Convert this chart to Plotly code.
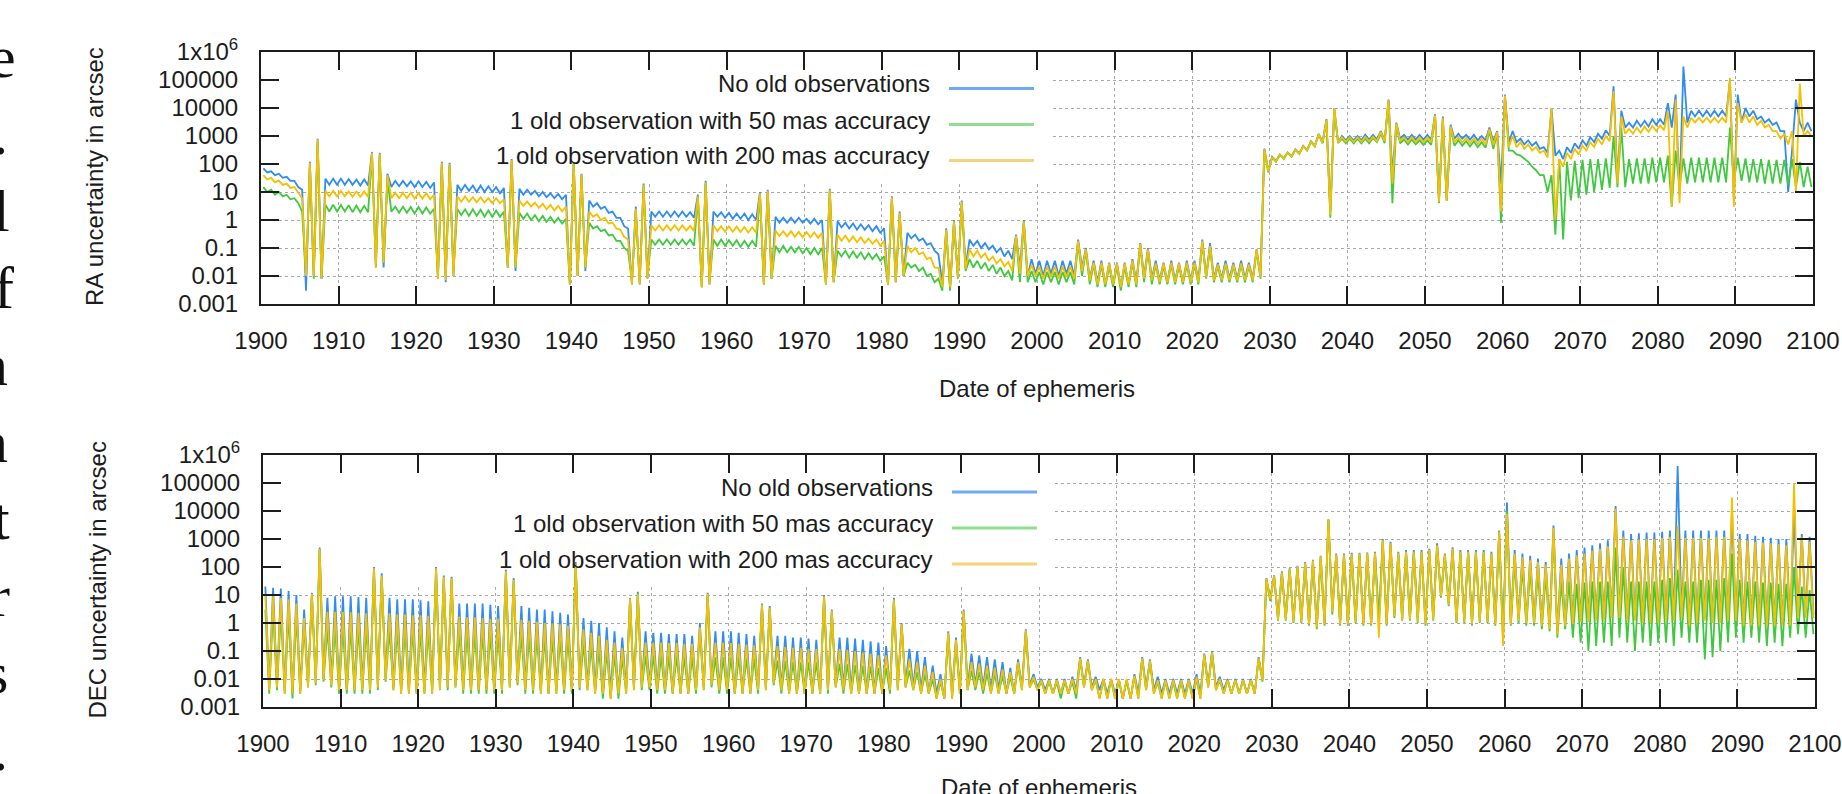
import plotly.graph_objects as go

# ---------------- data ----------------
# One pair of samples per year 1900..2099: H1 = first half of the year, H2 = second half.
YEARS = list(range(1900, 2100))
PHASE_1, PHASE_2 = 0.3, 0.8

# RA uncertainty (arcsec) -- top panel
RA_NO_H1 = [
    70, 55, 45, 35, 25, 12, 120, 800, 30, 30,
    30, 29, 28, 28, 270, 250, 45, 25, 25, 24,
    24, 23, 22, 120, 110, 18, 18, 17, 17, 16,
    15, 14, 150, 13, 12, 11, 10, 9, 8.5, 8,
    120, 45, 5, 4, 3, 2, 1.2, 0.5, 3, 20,
    2, 2, 2, 2, 2, 1.9, 8, 25, 2, 1.9,
    1.8, 1.7, 1.7, 1.6, 10, 12, 1.3, 1.2, 1.2, 1.2,
    1.1, 1.1, 1.0, 13, 0.9, 0.8, 0.75, 0.7, 0.65, 0.6,
    0.5, 7, 2, 0.35, 0.3, 0.22, 0.15, 0.06, 0.5, 1,
    5, 0.2, 0.18, 0.15, 0.12, 0.1, 0.08, 0.3, 1, 0.04,
    0.035, 0.035, 0.035, 0.035, 0.035, 0.2, 0.1, 0.035, 0.035, 0.03,
    0.03, 0.03, 0.04, 0.15, 0.1, 0.035, 0.03, 0.035, 0.03, 0.035,
    0.035, 0.2, 0.15, 0.03, 0.035, 0.03, 0.035, 0.03, 0.09, 350,
    180, 220, 260, 330, 450, 650, 1200, 4000, 10000, 1000,
    1000, 1000, 1100, 1100, 1500, 20000, 3000, 1100, 1100, 1100,
    1100, 6000, 5000, 2500, 1200, 1100, 1100, 1000, 2000, 1500,
    30000, 1500, 800, 700, 600, 400, 10000, 300, 400, 550,
    700, 900, 1200, 1600, 60000, 8000, 3000, 3500, 3500, 4000,
    4000, 15000, 30000, 300000, 8000, 8000, 8000, 8000, 8000, 100000,
    30000, 10000, 8000, 5000, 4000, 3000, 1500, 300, 3000, 3000,
]
RA_NO_H2 = [
    50, 40, 32, 25, 15, 0.003, 0.01, 0.008, 18, 18,
    18, 18, 17, 17, 0.02, 0.02, 15, 16, 16, 15,
    15, 14, 0.008, 0.006, 0.01, 11, 11, 10, 10, 10,
    9, 0.02, 0.015, 8, 8, 7, 6.5, 6, 5.5, 0.005,
    0.01, 0.015, 3, 2.5, 1.8, 1.2, 0.6, 0.005, 0.005, 0.008,
    1.3, 1.3, 1.3, 1.3, 1.3, 1.2, 0.004, 0.005, 1.3, 1.2,
    1.1, 1.1, 1.0, 1.0, 0.005, 0.008, 0.8, 0.8, 0.8, 0.8,
    0.75, 0.7, 0.005, 0.006, 0.55, 0.5, 0.45, 0.45, 0.4, 0.35,
    0.005, 0.006, 0.01, 0.22, 0.18, 0.13, 0.08, 0.005, 0.004, 0.01,
    0.02, 0.12, 0.1, 0.09, 0.07, 0.05, 0.04, 0.02, 0.01, 0.012,
    0.01, 0.012, 0.01, 0.012, 0.01, 0.02, 0.008, 0.006, 0.005, 0.005,
    0.004, 0.005, 0.006, 0.01, 0.008, 0.007, 0.006, 0.007, 0.006, 0.007,
    0.007, 0.01, 0.008, 0.008, 0.008, 0.008, 0.008, 0.008, 0.01, 60,
    130, 160, 190, 240, 320, 450, 600, 2, 600, 700,
    700, 700, 750, 750, 700, 40, 800, 750, 750, 750,
    750, 5, 5, 800, 800, 750, 700, 700, 650, 20,
    600, 600, 500, 450, 350, 250, 200, 150, 250, 350,
    450, 600, 800, 1000, 30, 2000, 2000, 2200, 2200, 2500,
    2500, 2000, 8, 3000, 5000, 5000, 5000, 5000, 5000, 5,
    3000, 5000, 4000, 3000, 2500, 1500, 10, 20000, 1500, 1500,
]
RA_50_H1 = [
    15, 12, 10, 8, 6, 2, 100, 600, 3.5, 3.5,
    3.4, 3.4, 3.3, 3.2, 200, 200, 30, 3, 3, 2.9,
    2.9, 2.8, 2.5, 100, 90, 2.5, 2.4, 2.4, 2.3, 2.2,
    2.2, 2, 120, 1.8, 1.7, 1.5, 1.4, 1.3, 1.2, 1.1,
    100, 40, 0.8, 0.6, 0.45, 0.3, 0.18, 0.08, 2, 15,
    0.2, 0.2, 0.2, 0.2, 0.2, 0.2, 6, 20, 0.2, 0.2,
    0.19, 0.19, 0.18, 0.18, 8, 10, 0.12, 0.12, 0.11, 0.11,
    0.1, 0.1, 0.1, 10, 0.08, 0.08, 0.075, 0.07, 0.065, 0.06,
    0.05, 6, 1.5, 0.03, 0.025, 0.02, 0.012, 0.008, 0.4, 0.8,
    4, 0.04, 0.035, 0.03, 0.025, 0.02, 0.015, 0.25, 0.8, 0.015,
    0.014, 0.014, 0.014, 0.014, 0.014, 0.15, 0.08, 0.025, 0.025, 0.022,
    0.022, 0.022, 0.03, 0.12, 0.08, 0.025, 0.022, 0.025, 0.022, 0.025,
    0.025, 0.15, 0.1, 0.022, 0.025, 0.022, 0.025, 0.022, 0.08, 300,
    170, 210, 250, 320, 430, 600, 1100, 3500, 9000, 800,
    800, 800, 800, 850, 1200, 18000, 2500, 750, 750, 700,
    700, 5000, 4000, 2000, 700, 650, 650, 600, 1500, 1200,
    25000, 300, 200, 120, 60, 40, 40, 150, 120, 130,
    140, 150, 150, 160, 1000, 2000, 150, 160, 160, 170,
    170, 200, 300, 160, 170, 170, 170, 170, 170, 2000,
    170, 160, 150, 150, 140, 140, 140, 150, 120, 80,
]
RA_50_H2 = [
    10, 8, 7, 5.5, 4, 0.01, 0.008, 0.008, 2, 2,
    2, 1.9, 1.9, 1.9, 0.03, 0.03, 2, 1.8, 1.8, 1.7,
    1.7, 1.7, 0.01, 0.01, 0.015, 1.5, 1.4, 1.4, 1.3, 1.3,
    1.3, 0.02, 0.02, 1.1, 1.0, 0.9, 0.85, 0.8, 0.75, 0.005,
    0.01, 0.02, 0.5, 0.4, 0.28, 0.18, 0.1, 0.006, 0.006, 0.01,
    0.13, 0.13, 0.13, 0.13, 0.13, 0.12, 0.004, 0.006, 0.12, 0.12,
    0.12, 0.11, 0.11, 0.11, 0.005, 0.008, 0.07, 0.07, 0.07, 0.065,
    0.06, 0.06, 0.005, 0.006, 0.05, 0.045, 0.045, 0.04, 0.04, 0.035,
    0.005, 0.006, 0.01, 0.02, 0.015, 0.01, 0.006, 0.003, 0.003, 0.008,
    0.015, 0.02, 0.018, 0.015, 0.012, 0.01, 0.007, 0.006, 0.006, 0.006,
    0.005, 0.006, 0.005, 0.006, 0.005, 0.01, 0.005, 0.004, 0.004, 0.004,
    0.003, 0.004, 0.004, 0.006, 0.005, 0.005, 0.005, 0.005, 0.005, 0.005,
    0.005, 0.008, 0.006, 0.006, 0.006, 0.006, 0.006, 0.006, 0.008, 50,
    120, 150, 180, 230, 300, 420, 550, 1.2, 550, 550,
    550, 550, 550, 600, 550, 4, 550, 500, 500, 480,
    480, 4, 5, 450, 450, 420, 400, 380, 350, 0.8,
    300, 220, 150, 80, 40, 10, 0.3, 0.2, 5, 6,
    8, 10, 12, 14, 15, 15, 20, 20, 20, 22,
    22, 3, 15, 20, 22, 22, 22, 22, 22, 25,
    25, 22, 22, 20, 20, 20, 18, 15, 15, 15,
]
RA_200_H1 = [
    40, 32, 26, 20, 15, 6, 110, 750, 11, 11,
    11, 10.5, 10.5, 10.5, 250, 230, 40, 9.5, 9.5, 9.5,
    9, 9, 8, 110, 100, 7, 7, 6.5, 6.5, 6,
    6, 5.5, 140, 5, 4.6, 4.2, 3.8, 3.5, 3.2, 3,
    110, 42, 2, 1.6, 1.2, 0.8, 0.45, 0.2, 2.5, 18,
    0.65, 0.65, 0.65, 0.65, 0.65, 0.62, 7, 22, 0.65, 0.6,
    0.6, 0.58, 0.56, 0.55, 9, 11, 0.42, 0.4, 0.4, 0.38,
    0.37, 0.36, 0.35, 12, 0.3, 0.28, 0.26, 0.24, 0.22, 0.2,
    0.18, 6.5, 1.8, 0.12, 0.1, 0.07, 0.045, 0.02, 0.45, 0.9,
    4.5, 0.09, 0.08, 0.065, 0.05, 0.04, 0.032, 0.28, 0.9, 0.025,
    0.022, 0.022, 0.022, 0.022, 0.022, 0.18, 0.09, 0.03, 0.03, 0.028,
    0.028, 0.028, 0.035, 0.14, 0.09, 0.028, 0.028, 0.03, 0.028, 0.03,
    0.03, 0.18, 0.12, 0.026, 0.028, 0.026, 0.028, 0.026, 0.085, 330,
    175, 215, 255, 325, 440, 620, 1150, 3800, 10000, 900,
    900, 900, 950, 950, 1400, 19000, 2800, 900, 900, 900,
    900, 5500, 4500, 2200, 900, 850, 850, 800, 1800, 1400,
    28000, 1000, 600, 500, 400, 300, 10000, 150, 250, 350,
    450, 600, 800, 1000, 40000, 5000, 1800, 2000, 2200, 2300,
    2400, 8000, 20000, 5000, 4500, 4500, 4500, 4500, 4500, 120000,
    15000, 6000, 5000, 3500, 2500, 1500, 1200, 1500, 75000, 1500,
]
RA_200_H2 = [
    28, 22, 18, 14, 9, 0.01, 0.01, 0.008, 7, 7,
    7, 6.8, 6.8, 6.6, 0.02, 0.03, 6, 6, 6, 5.8,
    5.8, 5.5, 0.008, 0.007, 0.01, 4.5, 4.5, 4.3, 4.2, 4,
    4, 0.02, 0.02, 3.2, 3, 2.7, 2.4, 2.2, 2, 0.005,
    0.01, 0.02, 1.3, 1.0, 0.75, 0.5, 0.25, 0.005, 0.005, 0.008,
    0.42, 0.42, 0.42, 0.42, 0.42, 0.4, 0.004, 0.005, 0.4, 0.38,
    0.38, 0.37, 0.36, 0.35, 0.005, 0.008, 0.27, 0.26, 0.25, 0.24,
    0.24, 0.23, 0.005, 0.006, 0.18, 0.17, 0.16, 0.15, 0.14, 0.12,
    0.005, 0.006, 0.01, 0.07, 0.06, 0.04, 0.02, 0.004, 0.004, 0.009,
    0.018, 0.05, 0.045, 0.035, 0.028, 0.022, 0.015, 0.012, 0.01, 0.01,
    0.008, 0.009, 0.008, 0.009, 0.008, 0.015, 0.007, 0.005, 0.005, 0.005,
    0.004, 0.005, 0.005, 0.008, 0.007, 0.006, 0.006, 0.006, 0.006, 0.006,
    0.006, 0.009, 0.007, 0.007, 0.007, 0.007, 0.007, 0.007, 0.009, 55,
    125, 155, 185, 235, 310, 440, 580, 1.5, 580, 620,
    620, 620, 650, 650, 650, 20, 650, 600, 600, 600,
    600, 4.5, 5, 600, 580, 550, 520, 500, 480, 2,
    400, 400, 350, 300, 250, 170, 1, 80, 150, 220,
    300, 400, 500, 650, 20, 1200, 1200, 1300, 1400, 1500,
    1600, 3, 4, 2000, 3000, 3000, 3000, 3000, 3000, 3,
    3000, 3000, 2500, 2000, 1500, 800, 500, 10, 1000, 1000,
]

# DEC uncertainty (arcsec) -- bottom panel
DEC_NO_H1 = [
    20, 18, 17, 14, 10, 3, 12, 500, 8, 9,
    9, 9, 8.5, 8, 100, 60, 8, 7, 7, 7,
    6.5, 6, 100, 50, 45, 5, 5, 5, 5, 4.5,
    4, 80, 40, 4, 3.5, 3, 3, 2.6, 2.3, 2,
    150, 1.5, 1.2, 1, 0.7, 0.5, 0.3, 8, 13, 0.5,
    0.45, 0.45, 0.4, 0.4, 0.4, 0.35, 1, 12, 0.5, 0.5,
    0.5, 0.45, 0.4, 0.35, 5, 4, 0.35, 0.35, 0.3, 0.3,
    0.28, 0.25, 10, 3, 0.3, 0.3, 0.28, 0.25, 0.22, 0.2,
    0.15, 8, 1, 0.12, 0.1, 0.06, 0.03, 0.015, 0.5, 0.3,
    3, 0.08, 0.07, 0.06, 0.05, 0.04, 0.025, 0.05, 0.6, 0.015,
    0.01, 0.01, 0.01, 0.01, 0.012, 0.06, 0.05, 0.012, 0.01, 0.01,
    0.009, 0.009, 0.015, 0.06, 0.05, 0.012, 0.01, 0.01, 0.01, 0.01,
    0.015, 0.08, 0.1, 0.012, 0.01, 0.01, 0.01, 0.01, 0.06, 40,
    50, 70, 90, 110, 150, 180, 250, 5000, 300, 300,
    320, 320, 330, 350, 1000, 800, 350, 400, 400, 400,
    450, 700, 300, 500, 400, 400, 400, 400, 350, 2000,
    20000, 400, 300, 250, 200, 150, 3000, 200, 300, 400,
    500, 600, 700, 900, 15000, 2000, 1500, 1600, 1700, 1700,
    1800, 2000, 400000, 2000, 2000, 2000, 2000, 2000, 2000, 8000,
    1500, 1500, 1300, 1200, 1100, 1000, 1000, 8000, 1500, 1200,
]
DEC_NO_H2 = [
    0.005, 0.006, 0.004, 0.003, 0.004, 0.006, 0.008, 0.01, 0.008, 0.005,
    0.004, 0.004, 0.005, 0.005, 0.006, 0.01, 0.005, 0.004, 0.004, 0.003,
    0.004, 0.004, 0.005, 0.005, 0.006, 0.005, 0.004, 0.004, 0.004, 0.005,
    0.005, 0.006, 0.008, 0.005, 0.004, 0.004, 0.003, 0.004, 0.004, 0.005,
    0.006, 0.005, 0.004, 0.003, 0.003, 0.003, 0.004, 0.005, 0.006, 0.006,
    0.005, 0.004, 0.003, 0.003, 0.003, 0.004, 0.005, 0.006, 0.004, 0.004,
    0.003, 0.003, 0.003, 0.004, 0.005, 0.008, 0.005, 0.004, 0.003, 0.003,
    0.003, 0.003, 0.004, 0.006, 0.005, 0.004, 0.003, 0.003, 0.003, 0.003,
    0.004, 0.005, 0.006, 0.005, 0.004, 0.003, 0.003, 0.002, 0.003, 0.004,
    0.005, 0.006, 0.005, 0.004, 0.004, 0.003, 0.003, 0.005, 0.006, 0.005,
    0.004, 0.003, 0.003, 0.003, 0.004, 0.006, 0.005, 0.004, 0.003, 0.003,
    0.002, 0.002, 0.003, 0.005, 0.004, 0.003, 0.003, 0.003, 0.003, 0.003,
    0.003, 0.006, 0.005, 0.004, 0.003, 0.003, 0.003, 0.003, 0.01, 8,
    1.5, 1.5, 1.3, 1.2, 1, 0.8, 1, 3, 1, 1,
    1.2, 1, 1, 1.2, 1, 2, 1.5, 1.5, 1.5, 1.2,
    1.5, 10, 5, 1.2, 1.2, 1, 1.2, 1.2, 1, 0.3,
    1, 1.5, 1.2, 1.2, 1, 0.8, 0.5, 1, 1.2, 1.5,
    1.5, 1.5, 1.5, 2, 2, 1.5, 1.5, 1.2, 1.2, 1.2,
    1.5, 1.5, 2, 1, 1.2, 1.5, 1.2, 1.2, 1.5, 1.5,
    1, 1, 1, 1, 1, 1, 1, 2, 2, 2,
]
DEC_50_H1 = [
    3, 3, 2.5, 2.2, 1.8, 0.8, 10, 400, 0.7, 0.7,
    0.7, 0.7, 0.7, 0.7, 80, 40, 0.6, 0.6, 0.6, 0.6,
    0.55, 0.55, 80, 40, 35, 0.5, 0.5, 0.5, 0.48, 0.45,
    0.45, 60, 30, 0.4, 0.38, 0.35, 0.33, 0.32, 0.3, 0.3,
    120, 0.2, 0.15, 0.12, 0.1, 0.08, 0.06, 7, 10, 0.07,
    0.07, 0.07, 0.065, 0.065, 0.06, 0.06, 0.5, 10, 0.06, 0.06,
    0.06, 0.06, 0.055, 0.055, 4, 3, 0.045, 0.045, 0.04, 0.04,
    0.04, 0.04, 8, 2.5, 0.035, 0.035, 0.032, 0.03, 0.028, 0.025,
    0.025, 6, 0.8, 0.02, 0.018, 0.015, 0.01, 0.008, 0.4, 0.2,
    2.5, 0.02, 0.018, 0.016, 0.015, 0.013, 0.012, 0.03, 0.5, 0.01,
    0.008, 0.008, 0.008, 0.008, 0.008, 0.05, 0.04, 0.009, 0.009, 0.009,
    0.009, 0.009, 0.012, 0.05, 0.04, 0.008, 0.008, 0.008, 0.008, 0.008,
    0.01, 0.07, 0.08, 0.009, 0.009, 0.009, 0.009, 0.009, 0.05, 35,
    45, 60, 80, 100, 130, 160, 220, 5000, 260, 260,
    270, 280, 290, 300, 800, 600, 300, 330, 330, 330,
    370, 550, 250, 400, 330, 330, 330, 320, 280, 1500,
    10000, 150, 100, 80, 60, 50, 1500, 30, 30, 25,
    28, 30, 30, 30, 500, 100, 30, 30, 30, 30,
    35, 40, 80, 30, 30, 35, 35, 35, 40, 300,
    35, 30, 30, 28, 28, 25, 25, 100, 20, 15,
]
DEC_50_H2 = [
    0.003, 0.004, 0.003, 0.002, 0.003, 0.005, 0.006, 0.008, 0.005, 0.003,
    0.003, 0.003, 0.003, 0.003, 0.004, 0.008, 0.004, 0.003, 0.003, 0.003,
    0.003, 0.003, 0.004, 0.004, 0.005, 0.003, 0.003, 0.003, 0.003, 0.003,
    0.003, 0.005, 0.006, 0.003, 0.003, 0.003, 0.003, 0.003, 0.003, 0.003,
    0.004, 0.004, 0.003, 0.002, 0.002, 0.002, 0.003, 0.004, 0.004, 0.004,
    0.003, 0.003, 0.003, 0.003, 0.003, 0.003, 0.004, 0.005, 0.003, 0.003,
    0.003, 0.003, 0.003, 0.003, 0.004, 0.006, 0.003, 0.003, 0.003, 0.003,
    0.003, 0.003, 0.003, 0.005, 0.003, 0.003, 0.003, 0.003, 0.003, 0.003,
    0.003, 0.004, 0.005, 0.004, 0.003, 0.003, 0.002, 0.002, 0.002, 0.003,
    0.004, 0.004, 0.003, 0.003, 0.003, 0.003, 0.003, 0.004, 0.005, 0.004,
    0.003, 0.003, 0.002, 0.003, 0.002, 0.005, 0.004, 0.002, 0.002, 0.002,
    0.002, 0.002, 0.002, 0.004, 0.003, 0.002, 0.002, 0.002, 0.002, 0.002,
    0.002, 0.005, 0.004, 0.003, 0.003, 0.003, 0.003, 0.003, 0.008, 6,
    1.2, 1.2, 1, 1, 0.8, 0.6, 0.8, 2, 0.8, 0.8,
    1, 0.8, 0.8, 1, 0.8, 1.5, 1.2, 1.2, 1, 0.8,
    1.2, 8, 4, 1, 1, 0.8, 1, 1, 0.8, 0.25,
    0.8, 1, 0.8, 0.8, 0.6, 0.5, 0.3, 0.6, 0.3, 0.2,
    0.1, 0.15, 0.2, 0.15, 0.3, 0.2, 0.1, 0.2, 0.15, 0.2,
    0.2, 0.15, 0.3, 0.2, 0.2, 0.05, 0.06, 0.1, 0.2, 0.3,
    0.2, 0.3, 0.2, 0.15, 0.2, 0.15, 0.3, 0.4, 0.3, 0.4,
]
DEC_200_H1 = [
    10, 9, 8, 7, 5, 1.5, 11, 450, 2.5, 2.5,
    2.5, 2.4, 2.3, 2.2, 90, 50, 2.2, 2, 2, 1.9,
    1.9, 1.8, 90, 45, 40, 1.7, 1.6, 1.6, 1.5, 1.4,
    1.4, 70, 35, 1.3, 1.2, 1.1, 1, 0.95, 0.9, 0.8,
    130, 0.6, 0.45, 0.35, 0.25, 0.2, 0.13, 7.5, 11, 0.2,
    0.2, 0.2, 0.19, 0.19, 0.18, 0.18, 0.7, 11, 0.2, 0.2,
    0.19, 0.18, 0.17, 0.16, 4.5, 3.5, 0.15, 0.14, 0.13, 0.13,
    0.12, 0.12, 9, 2.8, 0.12, 0.11, 0.1, 0.09, 0.08, 0.07,
    0.07, 7, 0.9, 0.05, 0.04, 0.03, 0.018, 0.01, 0.45, 0.25,
    2.8, 0.04, 0.035, 0.03, 0.025, 0.022, 0.018, 0.04, 0.55, 0.012,
    0.009, 0.009, 0.009, 0.009, 0.01, 0.055, 0.045, 0.01, 0.01, 0.01,
    0.01, 0.01, 0.013, 0.055, 0.045, 0.009, 0.009, 0.009, 0.009, 0.009,
    0.012, 0.075, 0.09, 0.01, 0.009, 0.009, 0.009, 0.009, 0.055, 38,
    48, 65, 85, 105, 140, 170, 240, 5000, 280, 280,
    290, 300, 310, 320, 900, 700, 320, 350, 350, 350,
    400, 600, 280, 450, 350, 350, 350, 340, 300, 1800,
    8000, 300, 220, 180, 150, 120, 2500, 120, 200, 260,
    300, 380, 450, 550, 12000, 1200, 900, 950, 1000, 1000,
    1100, 1200, 3000, 1100, 1100, 1100, 1100, 1200, 1200, 30000,
    1000, 900, 800, 750, 700, 650, 600, 100000, 1200, 800,
]
DEC_200_H2 = [
    0.004, 0.005, 0.003, 0.003, 0.003, 0.005, 0.007, 0.009, 0.006, 0.004,
    0.004, 0.004, 0.004, 0.004, 0.005, 0.009, 0.004, 0.003, 0.003, 0.003,
    0.003, 0.003, 0.004, 0.005, 0.005, 0.004, 0.004, 0.004, 0.004, 0.004,
    0.004, 0.005, 0.007, 0.004, 0.004, 0.003, 0.003, 0.003, 0.004, 0.004,
    0.005, 0.004, 0.003, 0.003, 0.002, 0.003, 0.003, 0.004, 0.005, 0.005,
    0.004, 0.004, 0.003, 0.003, 0.003, 0.004, 0.004, 0.006, 0.004, 0.004,
    0.003, 0.003, 0.003, 0.004, 0.004, 0.007, 0.004, 0.003, 0.003, 0.003,
    0.003, 0.003, 0.004, 0.005, 0.004, 0.003, 0.003, 0.003, 0.003, 0.003,
    0.004, 0.004, 0.005, 0.004, 0.003, 0.003, 0.002, 0.002, 0.002, 0.003,
    0.004, 0.005, 0.004, 0.003, 0.003, 0.003, 0.003, 0.004, 0.005, 0.004,
    0.003, 0.003, 0.003, 0.003, 0.003, 0.005, 0.004, 0.002, 0.002, 0.002,
    0.002, 0.002, 0.002, 0.004, 0.003, 0.002, 0.002, 0.002, 0.002, 0.002,
    0.002, 0.005, 0.004, 0.003, 0.003, 0.003, 0.003, 0.003, 0.009, 7,
    1.3, 1.3, 1.1, 1.1, 0.9, 0.7, 0.9, 2.5, 0.9, 0.9,
    1.1, 0.9, 0.9, 0.3, 0.9, 1.8, 1.3, 1.3, 1.1, 0.9,
    1.3, 9, 4.5, 1.1, 1.1, 0.9, 1.1, 1.1, 0.9, 0.15,
    0.9, 1.2, 1, 1, 0.8, 0.6, 0.4, 0.8, 0.9, 1.1,
    1.1, 1.2, 1.2, 1.5, 1.5, 1.2, 1.2, 1, 1, 1,
    1.2, 1.2, 1.5, 0.8, 1, 1.2, 1, 1, 1.2, 1.2,
    0.8, 0.8, 0.8, 0.8, 0.8, 0.8, 0.8, 1.5, 1.5, 1.5,
]

SERIES_NAMES = ["No old observations",
                "1 old observation with 50 mas accuracy",
                "1 old observation with 200 mas accuracy"]
X_TICKS = list(range(1900, 2101, 10))
Y_TICKS = [1e-3, 1e-2, 1e-1, 1, 10, 100, 1000, 1e4, 1e5, 1e6]
Y_TICKTEXT = ["0.001", "0.01", "0.1", "1", "10", "100", "1000",
              "10000", "100000", "1x10<sup>6</sup>"]
Y_TITLES = ["RA uncertainty in arcsec", "DEC uncertainty in arcsec"]
X_TITLE = "Date of ephemeris"
MARGIN_LETTERS = ["e", ".", "l", "f", "n", "n", "t", "r", "s", "."]

# ---------------- styling ----------------
W, H = 1842, 794
LINE_COLORS = ["#2f8cf0", "#3fc93f", "#f5c000"]
KEY_COLORS = ["#6eaaf0", "#92de8f", "#f2d47c"]
FONT = "Liberation Sans, Arial, Helvetica, sans-serif"
INK = "#1c1c1c"
TXT_DY = 4.5  # annotation glyph centre sits this many px below its anchor

def px(x, y):
    return x / W, 1 - y / H

def path(h1, h2):
    xs, ys = [], []
    for yr, a, b in zip(YEARS, h1, h2):
        xs += [yr + PHASE_1, yr + PHASE_2]
        ys += [a, b]
    return xs, ys

fig = go.Figure()
panels = [
    ("x", "y", [(RA_NO_H1, RA_NO_H2), (RA_50_H1, RA_50_H2), (RA_200_H1, RA_200_H2)]),
    ("x2", "y2", [(DEC_NO_H1, DEC_NO_H2), (DEC_50_H1, DEC_50_H2), (DEC_200_H1, DEC_200_H2)]),
]
for xa, ya, series in panels:
    for (h1, h2), name, col in zip(series, SERIES_NAMES, LINE_COLORS):
        xs, ys = path(h1, h2)
        fig.add_trace(go.Scatter(x=xs, y=ys, mode="lines", name=name,
                                 line=dict(color=col, width=1.8),
                                 xaxis=xa, yaxis=ya, showlegend=False,
                                 hoverinfo="skip"))

# panel geometry in pixels: (left, right, top, bottom)
GEOM = [(261, 1813, 52, 304), (263, 1815, 455, 707)]

def xaxis_cfg(l, r, anchor):
    return dict(domain=[l / W, r / W], anchor=anchor, range=[1900, 2100],
                tickmode="array", tickvals=X_TICKS, automargin=False,
                ticks="inside", ticklen=18, tickwidth=1.5, tickcolor=INK,
                showline=True, linewidth=2, linecolor=INK, mirror="ticks",
                showgrid=True, gridcolor="#a9a9a9", griddash="dot", gridwidth=1,
                zeroline=False, tickfont=dict(family=FONT, size=24, color=INK),
                ticklabelstandoff=14)

def yaxis_cfg(t, b, anchor):
    return dict(domain=[1 - b / H, 1 - t / H], anchor=anchor, type="log",
                range=[-3, 6], tickmode="array", tickvals=Y_TICKS,
                ticktext=Y_TICKTEXT, automargin=False,
                ticks="inside", ticklen=18, tickwidth=1.5, tickcolor=INK,
                showline=True, linewidth=2, linecolor=INK, mirror="ticks",
                showgrid=True, gridcolor="#a9a9a9", griddash="dot", gridwidth=1,
                zeroline=False, tickfont=dict(family=FONT, size=24, color=INK),
                ticklabelstandoff=16)

(l1, r1, t1, b1), (l2, r2, t2, b2) = GEOM
fig.update_layout(
    template="none",
    width=W, height=H, margin=dict(l=0, r=0, t=0, b=0, autoexpand=False),
    paper_bgcolor="white", plot_bgcolor="white", hovermode=False,
    showlegend=False,
    xaxis=xaxis_cfg(l1, r1, "y"), yaxis=yaxis_cfg(t1, b1, "x"),
    xaxis2=xaxis_cfg(l2, r2, "y2"), yaxis2=yaxis_cfg(t2, b2, "x2"),
)

shapes, annotations = [], []

# keys: right-aligned text + sample line to the right (gnuplot style)
KEY_LAYOUT = [  # text right edge, sample x0, sample x1, row y's
    (932, 949, 1034, [88.5, 124.5, 160.5]),
    (935, 952, 1037, [492, 528, 564]),
]
for tx, sx0, sx1, rows in KEY_LAYOUT:
    for name, col, yy in zip(SERIES_NAMES, KEY_COLORS, rows):
        ax, ay = px(tx, yy - TXT_DY)
        annotations.append(dict(text=name, x=ax, y=ay, xref="paper", yref="paper",
                                xanchor="right", yanchor="middle", showarrow=False,
                                font=dict(family=FONT, size=24, color=INK)))
        x0, y0 = px(sx0, yy)
        x1, _ = px(sx1, yy)
        shapes.append(dict(type="line", xref="paper", yref="paper",
                           x0=x0, x1=x1, y0=y0, y1=y0,
                           line=dict(color=col, width=3)))

# opaque key boxes (hide the grid, stay under the curves)
for xr, yr in [("x", "y"), ("x2", "y2")]:
    shapes.append(dict(type="rect", xref=xr, yref=yr, x0=1900, x1=2001.8,
                       y0=24.5, y1=1e6, fillcolor="white", line=dict(width=0),
                       layer="between"))

# axis titles
for title, (cx, cy) in zip(Y_TITLES, [(94, 177), (96.5, 580)]):
    ax, ay = px(cx, cy)
    annotations.append(dict(text=title, x=ax, y=ay, xref="paper", yref="paper",
                            textangle=-90, xanchor="center", yanchor="middle",
                            showarrow=False, font=dict(family=FONT, size=24, color=INK)))
for cx, cy in [(1037, 388), (1039, 787.5)]:
    ax, ay = px(cx, cy)
    annotations.append(dict(text=X_TITLE, x=ax, y=ay, xref="paper", yref="paper",
                            xanchor="center", yanchor="middle", showarrow=False,
                            font=dict(family=FONT, size=24, color=INK)))

# clipped letters of the neighbouring text column at the far left
LETTER_RIGHT = [18, 10, 12, 16, 10, 10, 12, 12, 10, 10]
for i, (ch, rx) in enumerate(zip(MARGIN_LETTERS, LETTER_RIGHT)):
    ax, ay = px(rx, 77 * (i + 1) - 20)
    annotations.append(dict(text=ch, x=ax, y=ay, xref="paper", yref="paper",
                            xanchor="right", yanchor="middle", showarrow=False,
                            font=dict(family="Liberation Serif, Times New Roman, serif",
                                      size=60, color="#111111")))

fig.update_layout(shapes=shapes, annotations=annotations)

fig.write_html("out.html", config={"displayModeBar": False},
               post_script="document.body.style.margin='0';")
